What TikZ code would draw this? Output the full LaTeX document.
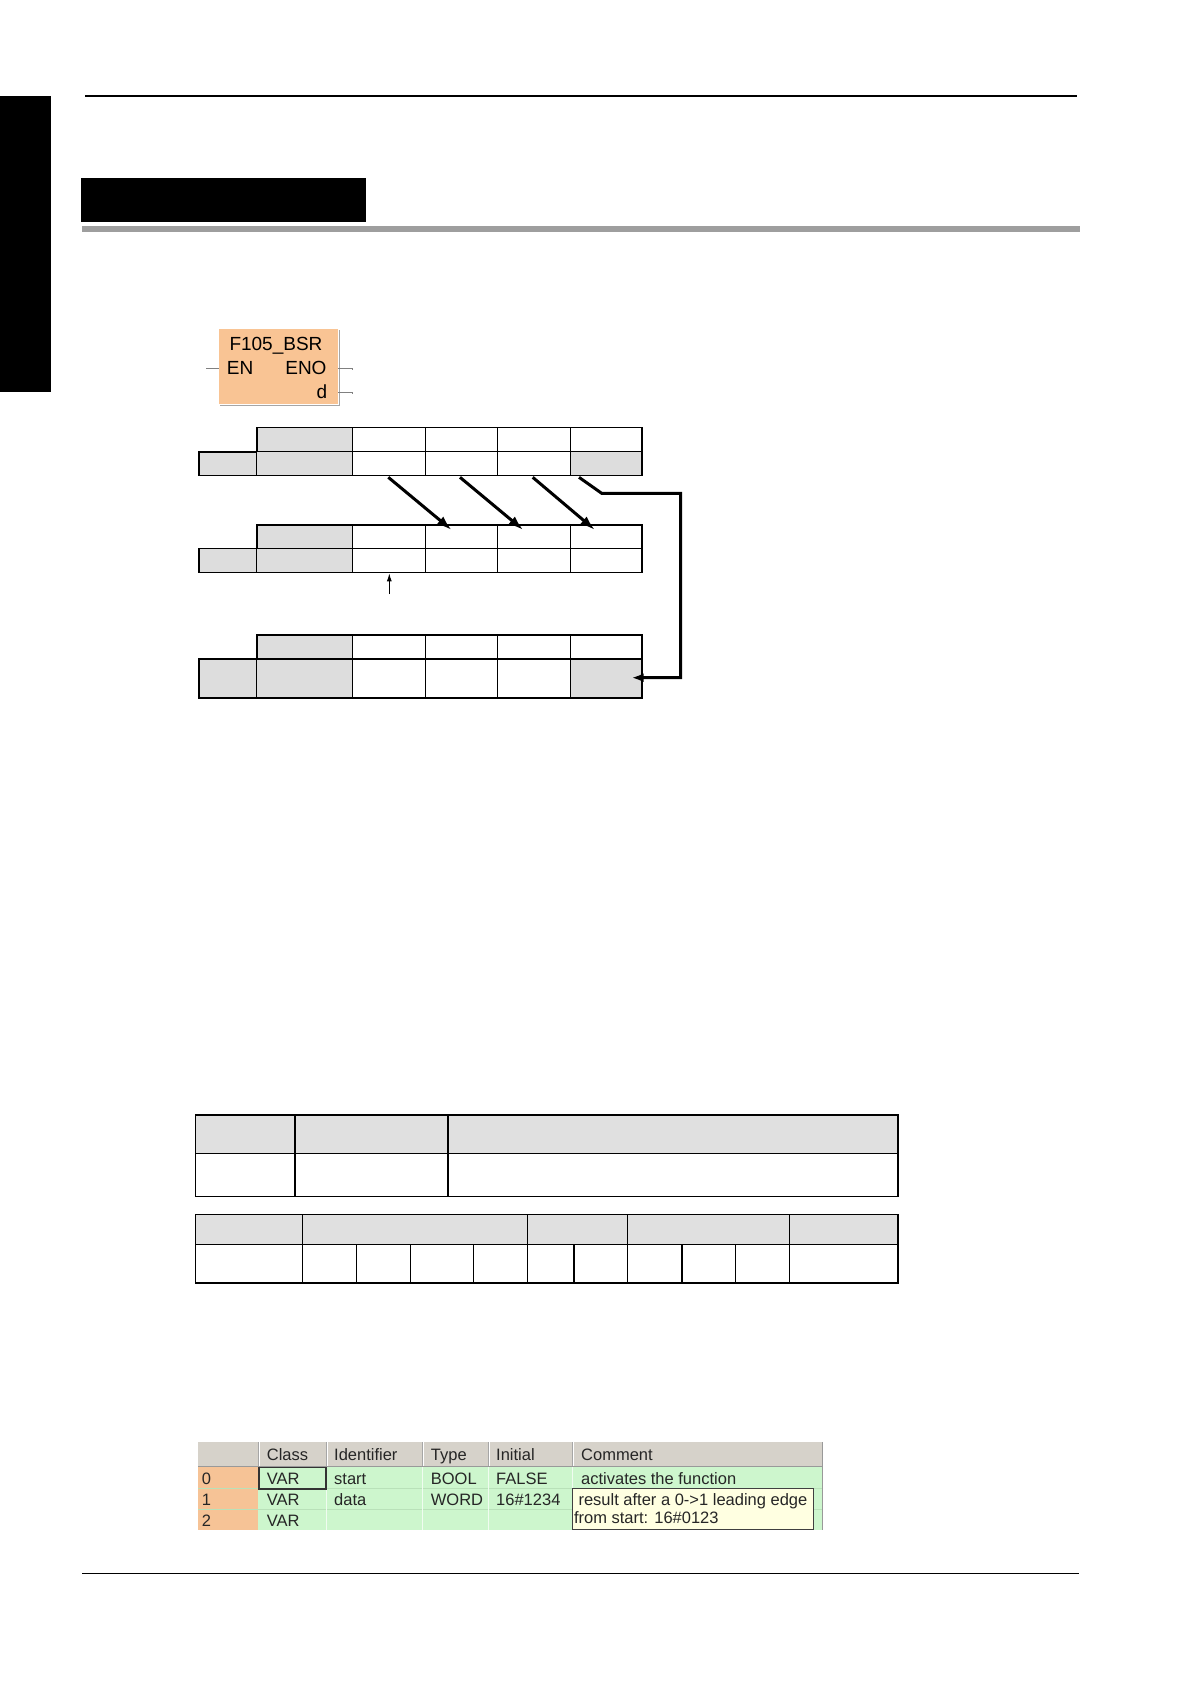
\documentclass[tikz,border=0pt]{standalone}
\usepackage{fontspec}
\setmainfont{Liberation Sans}
\usetikzlibrary{arrows.meta}
\definecolor{fbfill}{RGB}{249,196,148}
\definecolor{regfill}{RGB}{221,221,221}
\definecolor{tabhead}{RGB}{224,224,224}
\definecolor{barGray}{RGB}{158,158,158}
\definecolor{scrHead}{RGB}{214,210,202}
\definecolor{scrIdx}{RGB}{246,195,150}
\definecolor{scrGreen}{RGB}{205,246,205}
\definecolor{scrSep}{RGB}{185,225,185}
\definecolor{tipFill}{RGB}{255,255,225}
\newcommand\regtable[4]{%
  \fill[regfill] (199,#2) rectangle (352.7,#3);
  \fill[regfill] (256.7,#1) rectangle (352.7,#2);
  \ifnum#4=1 \fill[regfill] (570.3,#2) rectangle (642,#3);\fi
  \draw[regline] (199,#2) -- (642,#2);
  \foreach \xx in {256.7,352.7,425.3,497.3,570.3} {\draw[regline] (\xx,#1) -- (\xx,#3);}
  \draw[regouter] (256.7,#2) -- (256.7,#1) -- (642,#1) -- (642,#3) -- (199,#3) -- (199,#2) -- (256.7,#2);
}
\begin{document}
\begin{tikzpicture}[x=1pt,y=-1pt,
  regline/.style={line width=1.1pt,black},
  regouter/.style={line width=1.6pt,black,line join=miter},
  bigarrow/.style={line width=3pt,black,-{Latex[length=15pt,width=10pt]}},
  tabline/.style={line width=1.5pt,black},
  pinline/.style={line width=1pt,gray},
  fbtext/.style={font=\fontsize{19}{21}\selectfont,inner sep=0pt},
  scrtext/.style={font=\fontsize{16.5}{18}\selectfont,inner sep=0pt,anchor=base west,text=black!85},
]
\useasboundingbox (0,0) rectangle (1190,1684);
\fill[white] (0,0) rectangle (1190,1684);

% page decoration
\fill[black] (0,96) rectangle (50.7,391.7);
\draw[line width=1.3pt] (85,96) -- (1076.7,96);
\fill[black] (81,177.7) rectangle (365.7,221.7);
\fill[barGray] (81.7,225.7) rectangle (1080,231.7);
\draw[line width=1.3pt] (82,1573.3) -- (1079,1573.3);

% F105_BSR block
\draw[line width=1.2pt,gray!70] (339.5,330) -- (339.5,405.2) -- (220,405.2);
\node[fill=fbfill,minimum width=119pt,minimum height=75pt,inner sep=0pt] (fb) at (278.5,366.5) {};
\node[fbtext,anchor=base west] (fbname) at (229.3,350) {F105\_BSR};
\node[fbtext,anchor=base west] (fben) at (226.7,374) {EN};
\node[fbtext,anchor=base east] (fbeno) at (326.7,374) {ENO};
\node[fbtext,anchor=base east] (fbd) at (327.3,398) {d};
\coordinate (pinen) at (206,368);
\coordinate (pineno) at (352,368);
\coordinate (pind) at (352,392);
\draw[pinline] (pinen) -- (pinen -| fb.west);
\draw[pinline] (pineno -| fb.east) -- (pineno) -- ++(0,2);
\draw[pinline] (pind -| fb.east) -- (pind) -- ++(0,2);

% registers
\regtable{427.3}{451.7}{475.3}{1}
\regtable{525}{548.3}{572.3}{0}
\regtable{635}{659}{697.7}{1}

% shift arrows
\coordinate (a1s) at (388.3,477.3); \coordinate (a1e) at (451.7,530);
\coordinate (a2s) at (460,477.3);   \coordinate (a2e) at (523.3,530);
\coordinate (a3s) at (532.7,477.3); \coordinate (a3e) at (595,530);
\draw[bigarrow] (a1s) -- (a1e);
\draw[bigarrow] (a2s) -- (a2e);
\draw[bigarrow] (a3s) -- (a3e);
\coordinate (rs) at (579,477.3);
\coordinate (rk) at (601.7,493.3);
\coordinate (rc1) at (680.7,493.3);
\coordinate (rc2) at (680.7,677.7);
\coordinate (re) at (631.7,677.7);
\draw[line width=3pt,line join=miter,-{Latex[length=12pt,width=9pt]}] (rs) -- (rk) -- (rc1) -- (rc2) -- (re);
\coordinate (ps) at (389.3,594);
\coordinate (pe) at (389.3,573.3);
\draw[line width=1pt,-{Latex[length=8pt,width=5pt]}] (ps) -- (pe);

% table A
\fill[tabhead] (195.7,1115) rectangle (898,1153.3);
\draw[tabline] (195.7,1115) rectangle (898,1196.3);
\draw[tabline] (195.7,1153.3) -- (898,1153.3);
\foreach \xx in {295,448} {\draw[tabline] (\xx,1115) -- (\xx,1196.3);}

% table B
\fill[tabhead] (195.7,1214.3) rectangle (898,1244.3);
\draw[tabline] (195.7,1214.3) rectangle (898,1283);
\draw[tabline] (195.7,1244.3) -- (898,1244.3);
\foreach \xx in {302.3,527.3,627.7,789.7} {\draw[tabline] (\xx,1214.3) -- (\xx,1283);}
\foreach \xx in {356.3,410.3,473.3,574,682,735.7} {\draw[tabline] (\xx,1244.3) -- (\xx,1283);}

% screenshot of variable list
\fill[scrHead] (198,1442.3) rectangle (822.7,1466);
\draw[gray!80,line width=1pt] (198,1466.3) -- (822.7,1466.3);
\draw[gray!80,line width=1.2pt] (822.7,1442.3) -- (822.7,1530);
\foreach \xx in {258.3,326.7,422.7,488.3,572.7} {
  \draw[gray!70,line width=1pt] (\xx,1442.3) -- (\xx,1466);
  \draw[white,line width=0.8pt] (\xx+1,1442.3) -- (\xx+1,1466);
}
\fill[scrIdx] (198,1467) rectangle (258.3,1530);
\fill[scrGreen] (258.3,1467) rectangle (822,1530);
\foreach \yy in {1488.3,1509} {\draw[scrSep,line width=0.8pt] (198,\yy) -- (822,\yy);}
\foreach \xx in {326.7,422.7,488.3,572.7} {\draw[white!70!scrGreen,line width=0.8pt] (\xx,1467) -- (\xx,1530);}
\draw[black!80,line width=1.3pt] (259,1467.7) rectangle (326,1489);

\node[scrtext] (hclass) at (266.7,1460) {Class};
\node[scrtext] (hident) at (334,1460) {Identifier};
\node[scrtext] (htype) at (430.7,1460) {Type};
\node[scrtext] (hinit) at (496,1460) {Initial};
\node[scrtext] (hcomm) at (581,1460) {Comment};

\node[scrtext] (r0n) at (201.7,1484.5) {0};
\node[scrtext] (r1n) at (201.7,1505.2) {1};
\node[scrtext] (r2n) at (201.7,1526) {2};
\node[scrtext] (r0c) at (266.7,1484.5) {VAR};
\node[scrtext] (r1c) at (266.7,1505.2) {VAR};
\node[scrtext] (r2c) at (266.7,1526) {VAR};
\node[scrtext] (r0i) at (334,1484.5) {start};
\node[scrtext] (r1i) at (334,1505.2) {data};
\node[scrtext] (r0t) at (430.7,1484.5) {BOOL};
\node[scrtext] (r1t) at (430.7,1505.2) {WORD};
\node[scrtext] (r0v) at (496,1484.5) {FALSE};
\node[scrtext] (r1v) at (496,1505.2) {16\#1234};
\node[scrtext] (r0m) at (581,1484.5) {activates the function};

\draw[fill=tipFill,draw=black!75,line width=1pt] (572.7,1488.3) rectangle (813.3,1529.3);
\node[scrtext] (tip1) at (578.3,1505) {result after a 0->1 leading edge};
\node[scrtext] (tip2) at (573.8,1523.5) {from start: 16\#0123};
\end{tikzpicture}
\end{document}
